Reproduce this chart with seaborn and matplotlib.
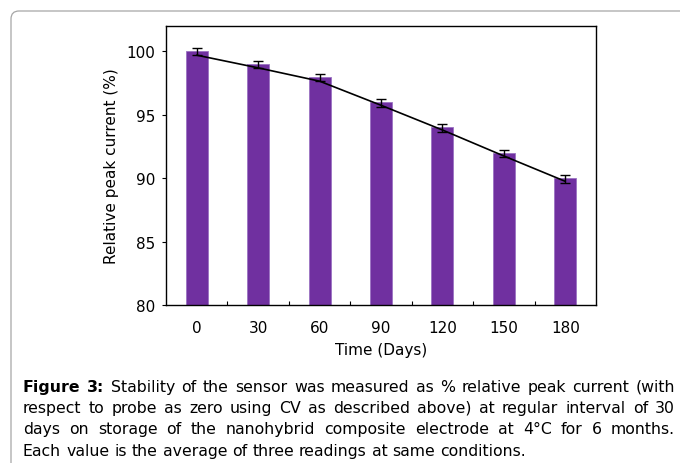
import numpy as np
import pandas as pd
import matplotlib
matplotlib.use("Agg")
import matplotlib.pyplot as plt
import seaborn as sns
from matplotlib.patches import FancyBboxPatch
from matplotlib.transforms import IdentityTransform

# values
days = ["0", "30", "60", "90", "120", "150", "180"]
bar_pct = [100.0, 99.0, 98.0, 96.0, 94.0, 92.0, 90.0]
err_mid = [99.98, 98.95, 97.95, 95.95, 93.98, 91.95, 89.92]
err_sd = [0.3, 0.3, 0.3, 0.3, 0.3, 0.3, 0.3]
line_pct = [99.7, 98.7, 97.65, 95.75, 93.8, 91.75, 89.75]

caption_lines = [
    "Figure 3: Stability of the sensor was measured as % relative peak current (with",
    "respect to probe as zero using CV as described above) at regular interval of 30",
    "days on storage of the nanohybrid composite electrode at 4°C for 6 months.",
    "Each value is the average of three readings at same conditions.",
]

W, H = 680, 464
sns.set_style("white")
plt.rcParams["font.family"] = ["DejaVu Sans"]
plt.rcParams["text.color"] = "black"
plt.rcParams["axes.labelcolor"] = "black"
plt.rcParams["xtick.color"] = "black"
plt.rcParams["ytick.color"] = "black"

df = pd.DataFrame({"Day": days, "Pct": bar_pct})

fig = plt.figure(figsize=(W / 100, H / 100), dpi=100)
ax = fig.add_axes([166 / W, 1 - 306 / H, (596 - 166) / W, (306 - 27) / H])

sns.barplot(data=df, x="Day", y="Pct", color="#7030A0", saturation=1,
            width=0.36, errorbar=None, edgecolor="#9b72c2", linewidth=0.6, ax=ax)
pos = np.arange(len(days))
ax.errorbar(pos, err_mid, yerr=err_sd, fmt="none", ecolor="black",
            elinewidth=1.0, capsize=3.6, capthick=1.0, zorder=4)
sns.lineplot(x=pos, y=line_pct, color="black", linewidth=1.2, ax=ax, zorder=5)

ax.set_xlim(-0.5, 6.5)
ax.set_ylim(80, 102)
ax.set_yticks([80, 85, 90, 95, 100])
ax.set_xticks(pos, days)
ax.set_xticks(pos[:-1] + 0.5, minor=True)
ax.tick_params(axis="x", which="major", length=0, pad=11, labelsize=11)
ax.tick_params(axis="x", which="minor", direction="in", length=3, width=0.8, bottom=True)
ax.tick_params(axis="y", direction="out", length=3, width=0.8, left=True, labelsize=11, pad=5)
ax.set_xlabel("Time (Days)", fontsize=11, labelpad=5)
ax.set_ylabel("Relative peak current (%)", fontsize=11, labelpad=5)
for s in ax.spines.values():
    s.set_color("black")
    s.set_linewidth(1.0)
    s.set_visible(True)

# rounded frame around figure + caption
frame = FancyBboxPatch((11, -30), 720, H - 12 + 30,
                       boxstyle="round,pad=0,rounding_size=8",
                       facecolor="none", edgecolor="#a6a6a6", linewidth=0.9,
                       transform=IdentityTransform())
fig.add_artist(frame)

# caption: first three lines justified, last one left aligned
x0, x1 = 23, 675
baselines = [391.7, 413.0, 434.3, 455.7]
cap_size = 11.3
renderer = fig.canvas.get_renderer()
for i, (line, yb) in enumerate(zip(caption_lines, baselines)):
    y = H - yb
    words = line.split(" ")
    texts = []
    for j, w in enumerate(words):
        bold = i == 0 and j < 2
        t = fig.text(x0, y, w, fontsize=cap_size, ha="left", va="baseline",
                     fontweight="bold" if bold else "normal",
                     transform=IdentityTransform(), color="black")
        texts.append(t)
    widths = [t.get_window_extent(renderer).width for t in texts]
    if i < 3:
        gap = (x1 - x0 - sum(widths)) / (len(words) - 1)
    else:
        sp = fig.text(0, 0, "a a", fontsize=cap_size, transform=IdentityTransform())
        sp2 = fig.text(0, 0, "aa", fontsize=cap_size, transform=IdentityTransform())
        gap = sp.get_window_extent(renderer).width - sp2.get_window_extent(renderer).width
        sp.remove()
        sp2.remove()
    x = x0
    for t, wd in zip(texts, widths):
        t.set_x(x)
        x += wd + gap

fig.savefig("out.png", dpi=100)
